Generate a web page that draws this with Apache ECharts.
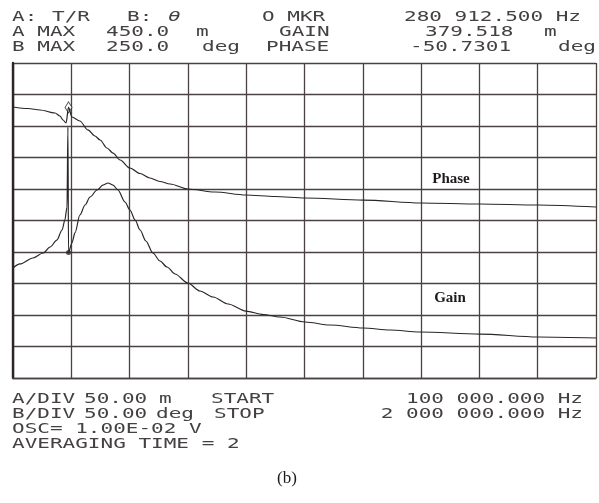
<!DOCTYPE html>
<html>
<head>
<meta charset="utf-8">
<script src="https://cdn.jsdelivr.net/npm/echarts@6/dist/echarts.min.js"></script>
<style>
  html, body { margin: 0; padding: 0; background: #fff; }
  #chart { width: 599px; height: 503px; }
</style>
</head>
<body>
<div id="chart"></div>
<script>
// Analyzer settings shown in the readout
const aMax = 450.0, aDiv = 50.0;        // trace A (m)
const bMax = 250.0, bDiv = 50.0;        // trace B (deg)
const fStart = 100000, fStop = 2000000; // sweep (Hz)
const markerFreq = 280912.5, markerGain = 379.518, markerPhase = -50.7301;

// Trace A samples
const freqA = [100000, 149000, 188000, 237000, 253000, 263000, 273000, markerFreq, 292000, 318000,
  344000, 367000, 384000, 406000, 426000, 449000, 481000, 514000, 546000, 579000,
  612000, 670000, 758000, 859000, 954000, 1052000, 1241000, 1430000, 1622000, 1811000,
  2000000];
const gainA = [380.2, 377.8, 375.4, 370.6, 365.9, 359.5, 354.8, markerGain, 364.3, 357.9,
  343.7, 334.1, 327.8, 315.1, 307.1, 296.0, 283.3, 274.6, 267.5, 261.9,
  257.9, 250.0, 245.2, 240.5, 238.1, 235.7, 232.5, 227.8, 226.2, 224.6,
  221.4];

// Trace B samples
const freqB = [100000, 123000, 165000, 198000, 221000, 243000, 260000, 269000, 276000, 279000,
  markerFreq, 292000, 302000, 318000, 335000, 351000, 374000, 393000, 410000, 426000,
  442000, 465000, 481000, 498000, 514000, 533000, 556000, 579000, 602000, 628000,
  670000, 709000, 752000, 801000, 859000, 915000, 970000, 1052000, 1133000, 1241000,
  1329000, 1426000, 1622000, 1811000, 2000000];
const phaseB = [-75.4, -69.0, -59.5, -51.6, -42.1, -31.0, -15.1, 0.8, 21.4, 148.4,
  markerPhase, -35.7, -19.8, 8.7, 24.6, 37.3, 48.4, 56.3, 59.5, 56.3,
  48.4, 29.4, 16.7, 0.8, -15.1, -32.5, -51.6, -64.3, -73.8, -84.9,
  -99.2, -111.9, -121.4, -132.5, -143.7, -149.2, -153.2, -161.1, -165.9, -170.6,
  -173.8, -177.0, -180.2, -184.9, -186.5];

const DIVS = 10;
const INK = '#2b2626';
const GRID_INK = '#4a4242';
const TEXT_INK = '#454141';
const MONO = '14px "DejaVu Sans Mono"';
const SX = 1.5;

function pairs(xs, ys) { return xs.map((x, i) => [x, ys[i]]); }

function mono(x, y, s, align, font) {
  return {
    type: 'text', x: x, y: y, scaleX: SX, silent: true,
    style: {
      text: s, font: font || MONO, fill: TEXT_INK,
      textAlign: align || 'left', textVerticalAlign: 'middle', verticalAlign: 'middle'
    }
  };
}

const fmt2 = v => v.toFixed(2);
const fmt1 = v => v.toFixed(1);
const hz = v => {
  const s = Math.floor(v).toString().replace(/\B(?=(\d{3})+(?!\d))/g, ' ');
  const frac = (v % 1).toFixed(3).slice(2);
  return s + '.' + frac + ' Hz';
};

const chart = echarts.init(document.getElementById('chart'), null, { renderer: 'canvas' });

chart.setOption({
  backgroundColor: '#ffffff',
  animation: false,
  grid: { left: 13, top: 63, width: 583, height: 315 },
  xAxis: [
    {
      type: 'value', min: 0, max: DIVS, interval: 1,
      axisLabel: { show: false }, axisTick: { show: false },
      axisLine: { show: true, lineStyle: { color: GRID_INK, width: 1.3 } },
      splitLine: { show: true, lineStyle: { color: GRID_INK, width: 1.3 } }
    },
    { type: 'value', min: fStart, max: fStop, show: false }
  ],
  yAxis: [
    {
      type: 'value', min: 0, max: DIVS, interval: 1,
      axisLabel: { show: false }, axisTick: { show: false },
      axisLine: { show: true, lineStyle: { color: INK, width: 2.4 } },
      splitLine: { show: true, lineStyle: { color: GRID_INK, width: 1.3 } }
    },
    { type: 'value', min: aMax - DIVS * aDiv, max: aMax, show: false },
    { type: 'value', min: bMax - DIVS * bDiv, max: bMax, show: false }
  ],
  series: [
    {
      name: 'A', type: 'line', xAxisIndex: 1, yAxisIndex: 1,
      data: pairs(freqA, gainA), symbol: 'none', smooth: 0.3, smoothMonotone: 'x',
      lineStyle: { color: INK, width: 1.2 }
    },
    {
      name: 'B', type: 'line', xAxisIndex: 1, yAxisIndex: 2,
      data: pairs(freqB, phaseB), symbol: 'none', smooth: 0.3, smoothMonotone: 'x',
      lineStyle: { color: INK, width: 1.2 }
    },
    {
      name: 'marker A', type: 'scatter', xAxisIndex: 1, yAxisIndex: 1,
      data: [[markerFreq, markerGain]], symbol: 'diamond', symbolSize: [7, 11],
      itemStyle: { color: '#ffffff', borderColor: INK, borderWidth: 1 }
    },
    {
      name: 'marker B', type: 'scatter', xAxisIndex: 1, yAxisIndex: 2,
      data: [[markerFreq, markerPhase]], symbol: 'circle', symbolSize: 5,
      itemStyle: { color: INK }
    }
  ],
  graphic: [
    // readout header
    mono(12, 17, 'A:'), mono(52, 17, 'T/R'), mono(127, 17, 'B:'),
    mono(168, 17, 'θ', 'left', 'italic 14px "DejaVu Sans Mono"'),
    mono(262, 17, 'O MKR'), mono(581, 17, hz(markerFreq), 'right'),
    mono(12, 32, 'A MAX'), mono(106, 32, fmt1(aMax)), mono(196, 32, 'm'),
    mono(279, 32, 'GAIN'), mono(425, 32, markerGain.toFixed(3)), mono(544, 32, 'm'),
    mono(12, 47, 'B MAX'), mono(106, 47, fmt1(bMax)), mono(202, 47, 'deg'),
    mono(266, 47, 'PHASE'), mono(410, 47, markerPhase.toFixed(4)), mono(558, 47, 'deg'),
    // readout footer
    mono(12, 399, 'A/DIV'), mono(84, 399, fmt2(aDiv)), mono(159, 399, 'm'),
    mono(211, 399, 'START'), mono(583, 399, hz(fStart), 'right'),
    mono(12, 414, 'B/DIV'), mono(84, 414, fmt2(bDiv)), mono(156, 414, 'deg'),
    mono(214, 414, 'STOP'), mono(583, 414, hz(fStop), 'right'),
    mono(12, 429, 'OSC= 1.00E-02 V'),
    mono(12, 444, 'AVERAGING TIME = 2'),
    // trace captions
    {
      type: 'text', x: 451, y: 179, silent: true,
      style: { text: 'Phase', font: 'bold 15px "Liberation Serif"', fill: '#1e1a1a',
        textAlign: 'center', textVerticalAlign: 'middle', verticalAlign: 'middle' }
    },
    {
      type: 'text', x: 450, y: 298, silent: true,
      style: { text: 'Gain', font: 'bold 15px "Liberation Serif"', fill: '#1e1a1a',
        textAlign: 'center', textVerticalAlign: 'middle', verticalAlign: 'middle' }
    },
    {
      type: 'text', x: 287, y: 479, silent: true,
      style: { text: '(b)', font: '17px "Liberation Serif"', fill: '#1e1a1a',
        textAlign: 'center', textVerticalAlign: 'middle', verticalAlign: 'middle' }
    }
  ]
});
</script>
</body>
</html>
